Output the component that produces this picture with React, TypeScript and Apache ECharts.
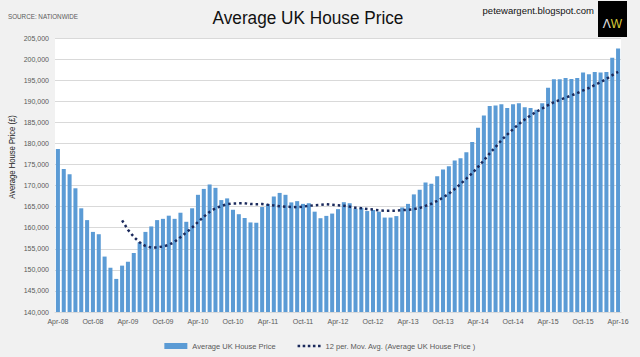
import React, { useEffect, useRef } from "react";
import * as echarts from "echarts";

const categories: string[] = [
  "Apr-08","May-08","Jun-08","Jul-08","Aug-08","Sep-08","Oct-08","Nov-08","Dec-08",
  "Jan-09","Feb-09","Mar-09","Apr-09","May-09","Jun-09","Jul-09","Aug-09","Sep-09","Oct-09","Nov-09","Dec-09",
  "Jan-10","Feb-10","Mar-10","Apr-10","May-10","Jun-10","Jul-10","Aug-10","Sep-10","Oct-10","Nov-10","Dec-10",
  "Jan-11","Feb-11","Mar-11","Apr-11","May-11","Jun-11","Jul-11","Aug-11","Sep-11","Oct-11","Nov-11","Dec-11",
  "Jan-12","Feb-12","Mar-12","Apr-12","May-12","Jun-12","Jul-12","Aug-12","Sep-12","Oct-12","Nov-12","Dec-12",
  "Jan-13","Feb-13","Mar-13","Apr-13","May-13","Jun-13","Jul-13","Aug-13","Sep-13","Oct-13","Nov-13","Dec-13",
  "Jan-14","Feb-14","Mar-14","Apr-14","May-14","Jun-14","Jul-14","Aug-14","Sep-14","Oct-14","Nov-14","Dec-14",
  "Jan-15","Feb-15","Mar-15","Apr-15","May-15","Jun-15","Jul-15","Aug-15","Sep-15","Oct-15","Nov-15","Dec-15",
  "Jan-16","Feb-16","Mar-16","Apr-16"
];

const prices: number[] = [
  178650,173900,172650,169350,164600,161800,159000,158450,153150,150500,
  147850,151000,151900,154000,156500,159000,160300,161800,162100,162850,
  162100,163550,161400,164600,167800,169200,170250,169450,166550,166950,
  164250,163200,162300,161250,161200,164900,165600,167400,168250,167800,
  166000,166300,165650,165800,163800,162250,162800,163350,164400,166050,
  165800,164500,164700,163950,164200,163800,162400,162400,162750,164800,
  165650,167900,169000,170750,170450,172200,173800,174600,175950,176500,
  177900,180300,183700,186600,188850,189000,189300,188400,189300,189500,
  188600,188400,188000,189550,193200,195200,195200,195500,195300,195500,
  196800,196400,196950,196800,196950,200300,202500
];

const movingAvg: (number | null)[] = [
  null,null,null,null,null,null,null,null,null,null,null,
  161740,159510,157850,156510,155650,155290,155290,155550,155910,156660,
  157750,158880,160010,161330,162600,163750,164620,165140,165570,165750,
  165780,165790,165600,165580,165610,165430,165280,165110,164970,164930,
  164870,164990,165200,165330,165410,165550,165420,165320,165200,165000,
  164730,164620,164420,164300,164130,164020,164030,164030,164150,164250,
  164400,164670,165190,165670,166360,167160,168060,169190,170360,171630,
  172920,174420,175980,177630,179150,180730,182080,183370,184610,185660,
  186650,187500,188270,189060,189780,190300,190850,191350,191940,192560,
  193140,193830,194530,195280,196180,196950
];

const yMin = 140000;
const yMax = 205000;
const yStep = 5000;

const font = "'Liberation Sans', Arial, sans-serif";
const dotsIcon =
  "path://M0,0h2.5v2.5h-2.5z M5,0h2.5v2.5h-2.5z M10,0h2.5v2.5h-2.5z M15,0h2.5v2.5h-2.5z M20,0h2.5v2.5h-2.5z";

export default function App() {
  const ref = useRef<HTMLDivElement>(null);
  useEffect(() => {
    if (!ref.current) return;
    const chart = echarts.init(ref.current, null, { renderer: "svg" });
    chart.setOption({
      animation: false,
      backgroundColor: "#f1f1f1",
      grid: {
        left: 55,
        right: 19,
        top: 38,
        bottom: 45,
        show: true,
        backgroundColor: "#ffffff",
        borderWidth: 0,
      },
      xAxis: {
        type: "category",
        data: categories,
        boundaryGap: true,
        axisLine: { lineStyle: { color: "#d9d9d9" } },
        axisTick: { show: false },
        axisLabel: {
          interval: 5,
          color: "#595959",
          fontSize: 7,
          fontFamily: font,
          margin: 6,
        },
      },
      yAxis: {
        type: "value",
        min: yMin,
        max: yMax,
        interval: yStep,
        axisLine: { show: false },
        axisTick: { show: false },
        splitLine: { lineStyle: { color: "#d9d9d9", width: 1 } },
        axisLabel: {
          color: "#595959",
          fontSize: 7,
          fontFamily: font,
          margin: 6,
          formatter: (v: number) => v.toLocaleString("en-US"),
        },
      },
      legend: {
        left: "center",
        top: 337,
        itemWidth: 23,
        itemHeight: 6,
        itemGap: 22,
        textStyle: { color: "#595959", fontSize: 7.5, fontFamily: font },
        data: [
          { name: "Average UK House Price", icon: "rect" },
          {
            name: "12 per. Mov. Avg. (Average UK House Price )",
            icon: dotsIcon,
            itemStyle: { color: "#1b2a5c", borderWidth: 0 },
          },
        ],
      },
      series: [
        {
          name: "Average UK House Price",
          type: "bar",
          data: prices,
          barCategoryGap: "31%",
          itemStyle: { color: "#5b9bd5" },
        },
        {
          name: "12 per. Mov. Avg. (Average UK House Price )",
          type: "line",
          data: movingAvg,
          symbol: "none",
          lineStyle: { color: "#1b2a5c", width: 2.5, type: [2.5, 3] },
          itemStyle: { color: "#1b2a5c" },
        },
      ],
      graphic: [
        {
          type: "text",
          x: 8,
          y: 16,
          scaleX: 0.9,
          style: {
            text: "SOURCE: NATIONWIDE",
            fill: "#595959",
            fontSize: 7,
            fontFamily: font,
            verticalAlign: "middle",
          },
        },
        {
          type: "text",
          x: 308,
          y: 18,
          scaleX: 0.93,
          style: {
            text: "Average UK House Price",
            fill: "#111111",
            fontSize: 18.5,
            fontFamily: font,
            align: "center",
            verticalAlign: "middle",
          },
        },
        {
          type: "text",
          x: 594,
          y: 10,
          style: {
            text: "petewargent.blogspot.com",
            fill: "#111111",
            fontSize: 9.5,
            fontFamily: font,
            align: "right",
            verticalAlign: "middle",
          },
        },
        {
          type: "rect",
          shape: { x: 598, y: 1, width: 29, height: 36 },
          style: { fill: "#000000" },
        },
        {
          type: "text",
          x: 612.5,
          y: 24,
          style: {
            text: "{a|Λ}{b|W}",
            align: "center",
            verticalAlign: "middle",
            rich: {
              a: { fill: "#e6e6e6", fontSize: 12, fontFamily: font },
              b: { fill: "#d9cc3a", fontSize: 12, fontFamily: font },
            },
          },
        },
        {
          type: "text",
          x: 12,
          y: 157,
          rotation: Math.PI / 2,
          scaleX: 0.85,
          style: {
            text: "Average House Price (£)",
            fill: "#222222",
            fontSize: 9,
            fontFamily: font,
            align: "center",
            verticalAlign: "middle",
          },
        },
      ],
    });
    return () => chart.dispose();
  }, []);
  return (
    <div
      ref={ref}
      style={{ position: "fixed", left: 0, top: 0, width: 640, height: 357 }}
    />
  );
}
